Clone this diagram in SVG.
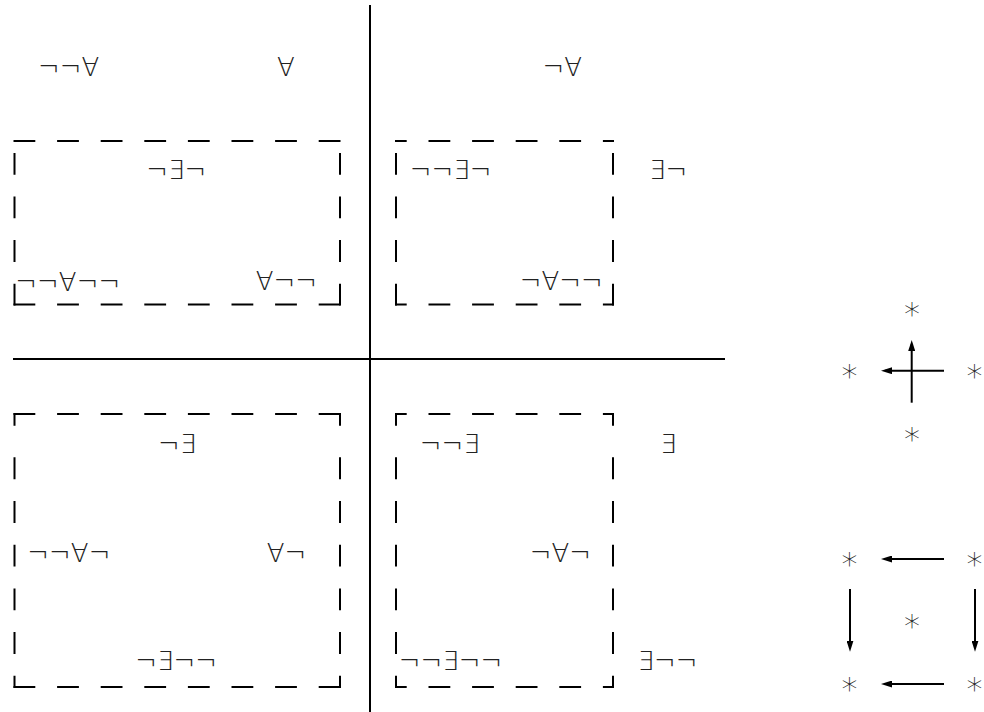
<svg xmlns="http://www.w3.org/2000/svg" width="984" height="712" viewBox="0 0 984 712">
<style>
.bg{fill:#ffffff}
.axis{stroke:#000;stroke-width:2;fill:none}
.d{stroke:#000;stroke-width:2;fill:none;stroke-dasharray:21.8 21.8}
.dn{stroke:#000;stroke-width:2;fill:none;stroke-dasharray:21.8 21.8;stroke-dashoffset:10.1}
.dt{stroke:#000;stroke-width:2;fill:none;stroke-dasharray:12.7 31.6 21.9 21.8 21.9 21.8 21.9 21.8 21.9 21.8 21.9 21.8 40}
.t{font-family:"DejaVu Sans",sans-serif;font-weight:200;font-size:26px;fill:#222}
.s{font-family:"DejaVu Sans",sans-serif;font-weight:200;font-size:32px;fill:#222;text-anchor:middle}
.a{stroke:#000;stroke-width:2;fill:none;marker-end:url(#ah)}
</style>
<defs>
<marker id="ah" viewBox="0 0 11 7" refX="7" refY="3.5" markerWidth="11" markerHeight="7" markerUnits="userSpaceOnUse" orient="auto">
<path d="M0 0 L11 3.5 L0 7 Z" fill="#000"/>
</marker>
</defs>
<rect class="bg" x="0" y="0" width="984" height="712"/>
<g id="axes">
<path class="axis" d="M370 5 V712"/>
<path class="axis" d="M13 359 H725"/>
</g>
<g id="box-top-left">
<path class="d" d="M13.5 141 H341"/>
<path class="d" d="M13.5 304.5 H341"/>
<path class="d" d="M14.5 305.5 V140"/>
<path class="d" d="M340 305.5 V140"/>
</g>
<g id="box-top-right">
<path class="dn" d="M395 141 H614"/>
<path class="dn" d="M395 304.5 H614"/>
<path class="d" d="M396 305.5 V140"/>
<path class="d" d="M613 305.5 V140"/>
</g>
<g id="box-bottom-left">
<path class="d" d="M13.5 414 H341"/>
<path class="d" d="M13.5 687 H341"/>
<path class="dt" d="M14.5 413 V688"/>
<path class="dt" d="M340 413 V688"/>
</g>
<g id="box-bottom-right">
<path class="dn" d="M395 414 H614"/>
<path class="dn" d="M395 687 H614"/>
<path class="dt" d="M396 413 V688"/>
<path class="dt" d="M613 413 V688"/>
</g>
<g id="labels">
<text class="t" x="38" y="76">¬¬∀</text>
<text class="t" x="277" y="76">∀</text>
<text class="t" x="542.5" y="76">¬∀</text>
<text class="t" x="146.3" y="179">¬∃¬</text>
<text class="t" x="15.3" y="290.5">¬¬∀¬¬</text>
<text class="t" x="255.7" y="290">∀¬¬</text>
<text class="t" x="409.7" y="179">¬¬∃¬</text>
<text class="t" x="649" y="179">∃¬</text>
<text class="t" x="519.7" y="290">¬∀¬¬</text>
<text class="t" x="158" y="453">¬∃</text>
<text class="t" x="27.3" y="562">¬¬∀¬</text>
<text class="t" x="266.7" y="562">∀¬</text>
<text class="t" x="135.3" y="670">¬∃¬¬</text>
<text class="t" x="419.7" y="453">¬¬∃</text>
<text class="t" x="660" y="453">∃</text>
<text class="t" x="529.7" y="562">¬∀¬</text>
<text class="t" x="398.7" y="670">¬¬∃¬¬</text>
<text class="t" x="637.5" y="670">∃¬¬</text>
</g>
<g id="stars">
<text class="s" x="912" y="325">*</text>
<text class="s" x="849.5" y="387">*</text>
<text class="s" x="974.5" y="387">*</text>
<text class="s" x="912" y="449.7">*</text>
<text class="s" x="849.5" y="575">*</text>
<text class="s" x="974.5" y="575">*</text>
<text class="s" x="912" y="637">*</text>
<text class="s" x="849.5" y="699.7">*</text>
<text class="s" x="974.5" y="699.7">*</text>
</g>
<g id="connectors">
<path class="a" d="M911.7 402.7 V344"/>
<path class="a" d="M944 370.7 H885"/>
<path class="a" d="M944 559 H885"/>
<path class="a" d="M944 684 H885"/>
<path class="a" d="M850 589 V647.7"/>
<path class="a" d="M975 589 V647.7"/>
</g>
</svg>
